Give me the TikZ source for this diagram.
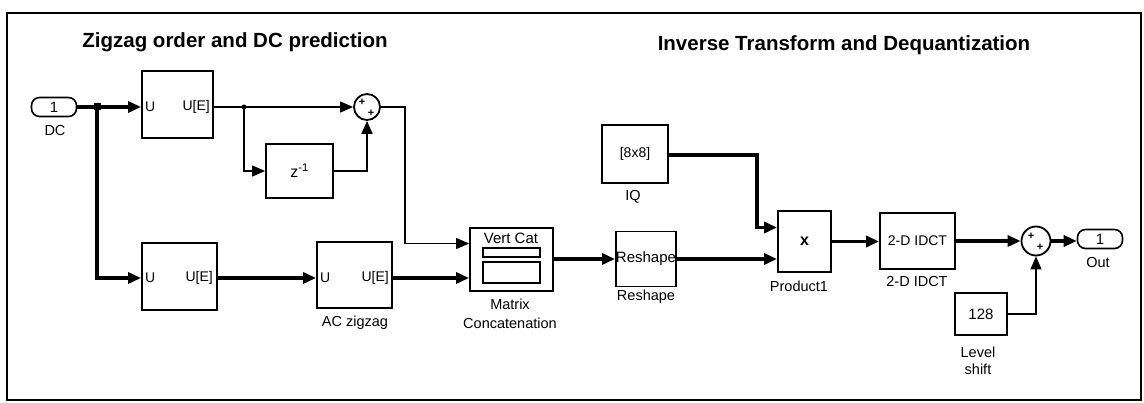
\documentclass[tikz,border=0pt]{standalone}
\usepackage{fontspec}
\setmainfont{Liberation Sans}
\usetikzlibrary{arrows.meta,positioning}
\begin{document}
\begin{tikzpicture}[x=1pt,y=-1pt,
  blk/.style={draw,line width=1.8pt,inner sep=0pt,font=\fontsize{14}{16}\selectfont},
  port/.style={draw,line width=1.6pt,rounded corners=8pt,inner sep=0pt,minimum width=45pt,minimum height=19pt,font=\fontsize{15}{17}\selectfont},
  sumblk/.style={draw,line width=1.8pt,circle,inner sep=0pt},
  lbl/.style={font=\fontsize{14.5}{17}\selectfont,inner sep=0pt},
  ttl/.style={font=\fontsize{20.5}{23}\selectfont\bfseries,inner sep=0pt},
  thin/.style={line width=1.2pt,-{Triangle[length=13pt,width=11pt]}},
  thinnoarrow/.style={line width=1.2pt},
  thick/.style={line width=3.4pt,-{Triangle[length=13pt,width=11pt]}},
  thicknoarrow/.style={line width=3.4pt},
  sign/.style={font=\fontsize{11}{11}\selectfont\bfseries,inner sep=0pt}
]
\useasboundingbox (0,0) rectangle (1144,403);
\draw[line width=1.3pt] (7,13) rectangle (1141,400);

\node[ttl] (t1) at (235,42) {Zigzag order and DC prediction};
\node[ttl] (t2) at (844,45) {Inverse Transform and Dequantization};

% blocks
\node[port] (dcin) at (54,107) {1};
\node[lbl] (dcl) at (55,131) {DC};
\node[blk,minimum width=71pt,minimum height=67pt] (box1) at (177.5,104.5) {};
\node[lbl,font=\fontsize{14}{16}\selectfont,anchor=west] (b1u) at (145,107) {U};
\node[lbl,font=\fontsize{14}{16}\selectfont,anchor=east] (b1e) at (210,107) {U[E]};
\node[sumblk,minimum size=26pt] (sum1) at (367,107) {};
\node[sign] (s1a) at (362,102) {+};
\node[sign] (s1b) at (371,113) {+};
\node[blk,minimum width=67pt,minimum height=54pt,font=\fontsize{16}{18}\selectfont] (zb) at (299.5,171) {z\textsuperscript{-1}};

\node[blk,minimum width=75pt,minimum height=67pt] (box2) at (179.5,276.5) {};
\node[lbl,font=\fontsize{14}{16}\selectfont,anchor=west] (b2u) at (145,278) {U};
\node[lbl,font=\fontsize{14}{16}\selectfont,anchor=east] (b2e) at (213,278) {U[E]};
\node[blk,minimum width=75pt,minimum height=66pt] (ac) at (354.5,275) {};
\node[lbl,font=\fontsize{14}{16}\selectfont,anchor=west] (acu) at (320,278) {U};
\node[lbl,font=\fontsize{14}{16}\selectfont,anchor=east] (ace) at (389,278) {U[E]};
\node[lbl] (acl) at (355,323) {AC zigzag};

\node[blk,minimum width=83pt,minimum height=63pt] (cat) at (511.5,259.5) {};
\node[lbl,font=\fontsize{15}{17}\selectfont] (catt) at (511,238) {Vert Cat};
\draw[line width=1.6pt] (483,248) rectangle (540,257);
\draw[line width=1.6pt] (483,262) rectangle (540,283);
\node[lbl] (catl1) at (510,304) {Matrix};
\node[lbl] (catl2) at (510,323) {Concatenation};

\node[blk,minimum width=60pt,minimum height=55pt,font=\fontsize{15}{17}\selectfont] (rs) at (646,259) {Reshape};
\node[lbl] (rsl) at (646,297) {Reshape};

\node[blk,minimum width=66pt,minimum height=58pt] (iq) at (635,154) {[8x8]};
\node[lbl] (iql) at (633,197) {IQ};

\node[blk,minimum width=53pt,minimum height=61pt,font=\fontsize{16}{18}\selectfont\bfseries] (prod) at (804.5,241.5) {x};
\node[lbl] (prodl) at (799,286) {Product1};

\node[blk,minimum width=75pt,minimum height=56pt] (idct) at (917.5,241) {2-D IDCT};
\node[lbl] (idctl) at (917,282) {2-D IDCT};

\node[sumblk,minimum size=29pt] (sum2) at (1036,241) {};
\node[sign] (s2a) at (1031,236) {+};
\node[sign] (s2b) at (1040,247) {+};
\node[port] (out) at (1100,239) {1};
\node[lbl] (outl) at (1098,263) {Out};

\node[blk,minimum width=52pt,minimum height=42pt,font=\fontsize{15}{17}\selectfont] (lvl) at (981,314) {128};
\node[lbl,align=center] (lvll) at (978,361) {Level\\shift};

% coordinates
\coordinate (j1) at (97,107);
\coordinate (j2) at (244,107);
\coordinate (c1) at (405,107);
\coordinate (c2) at (757,155);

% connectors
\draw[thicknoarrow] (dcin.east) -- (j1);
\draw[thick] (j1) -- (box1.west |- j1);
\fill (j1) ++(-3.5,-3.5) rectangle ++(7,7);
\draw[thick] (j1) |- (box2.west |- b2u);
\draw[thinnoarrow] (box1.east |- j2) -- (j2);
\draw[thin] (j2) -- (sum1.west);
\fill (j2) circle (2.5pt);
\draw[thin] (j2) |- (zb.west);
\draw[thin,line width=1.8pt] (zb.east) -| (sum1.south);
\draw[thin] (sum1.east) -- (c1) |- ([yshift=16pt]cat.west);
\draw[thick] (box2.east |- b2e) -- (ac.west |- b2e);
\draw[thick] (ac.east |- ace) -- (cat.west |- ace);
\draw[thick] (cat.east |- rs.west) -- (rs.west);
\draw[thick] (rs.east) -- (prod.west |- rs.east);
\draw[thick] (iq.east |- c2) -- (c2) |- ([yshift=14pt]prod.west);
\draw[thick] (prod.east) -- (idct.west |- prod.east);
\draw[thick] (idct.east) -- (sum2.west);
\draw[thick] (sum2.east) -- (out.west |- sum2.east);
\draw[thin] (lvl.east) -| (sum2.south);
\end{tikzpicture}
\end{document}
